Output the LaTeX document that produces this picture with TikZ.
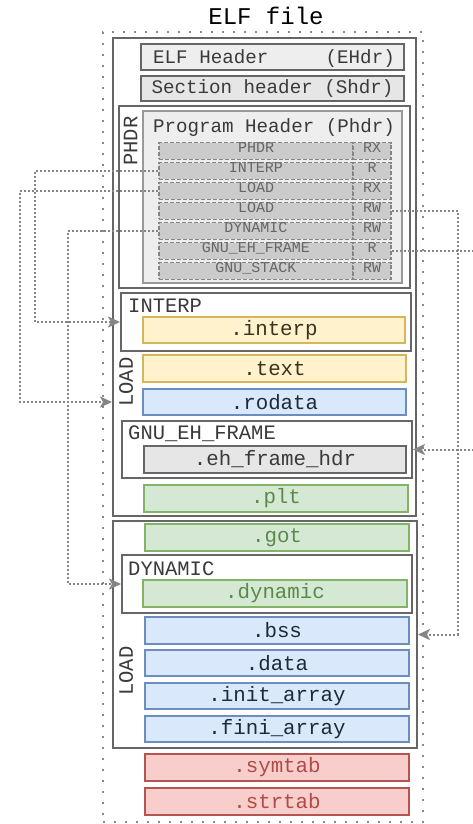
\documentclass[tikz,border=0pt]{standalone}
\usepackage{fontspec}
\setmainfont{Liberation Mono}
\usetikzlibrary{arrows.meta}

\definecolor{boxgray}{HTML}{666666}
\definecolor{dotgray}{HTML}{8A8A8A}
\definecolor{linkgray}{HTML}{858585}
\definecolor{lblgray}{HTML}{3A3A3A}
\definecolor{rowfill}{HTML}{CBCBCB}
\definecolor{rowdraw}{HTML}{858585}
\definecolor{rowtext}{HTML}{666666}
\definecolor{phfill}{HTML}{EEEEEE}
\definecolor{phdraw}{HTML}{999999}
\definecolor{yfill}{HTML}{FFF2CC}
\definecolor{ydraw}{HTML}{D6B656}
\definecolor{ytext}{HTML}{3B3320}
\definecolor{bfill}{HTML}{DAE8FC}
\definecolor{bdraw}{HTML}{6C8EBF}
\definecolor{btext}{HTML}{1C2A3A}
\definecolor{gfill}{HTML}{D5E8D4}
\definecolor{gdraw}{HTML}{82B366}
\definecolor{gtext}{HTML}{5A8A48}
\definecolor{rfill}{HTML}{F8CECC}
\definecolor{rdraw}{HTML}{B85450}
\definecolor{rtext}{HTML}{B24A45}
\definecolor{grfill}{HTML}{E6E6E6}

\newcommand{\secfont}{\fontsize{20.8}{23}\selectfont}
\newcommand{\hdrfont}{\fontsize{19.2}{21}\selectfont}
\newcommand{\lblfont}{\fontsize{20.5}{23}\selectfont}
\newcommand{\rowfont}{\fontsize{15}{17}\selectfont}

\begin{document}
\begin{tikzpicture}[x=1pt, y=-1pt, >={Stealth[length=12pt, width=11pt, inset=3pt]},
    filebox/.style={draw=dotgray, line width=2.2pt, dash pattern=on 2pt off 9pt, inner sep=0pt},
    seg/.style={draw=boxgray, line width=2pt, fill=white, inner sep=0pt},
    sect/.style={line width=2pt, minimum width=264pt, minimum height=27pt, inner sep=0pt, font=\secfont},
    yelsect/.style={sect, fill=yfill, draw=ydraw, text=ytext},
    blusect/.style={sect, fill=bfill, draw=bdraw, text=btext},
    grnsect/.style={sect, fill=gfill, draw=gdraw, text=gtext},
    redsect/.style={sect, fill=rfill, draw=rdraw, text=rtext},
    grysect/.style={sect, fill=grfill, draw=boxgray, text=lblgray},
    hdrtxt/.style={font=\hdrfont, text=lblgray, inner sep=0pt},
    lbl/.style={font=\lblfont, text=lblgray, inner sep=0pt},
    row/.style={fill=rowfill, draw=rowdraw, dash pattern=on 4pt off 2pt, line width=1.3pt, minimum height=16.5pt, inner sep=0pt,
        text height=9pt, text depth=7pt, text=rowtext, font=\rowfont},
    link/.style={draw=linkgray, line width=2pt, dash pattern=on 2pt off 2pt}]
    \useasboundingbox (0,0) rectangle (473,824);
    \clip (0,0) rectangle (473,824);

    \node[font=\fontsize{24}{26}\selectfont] (title) at (266,16) {ELF file};
    \node[filebox, minimum width=320pt, minimum height=790pt] (file) at (263,427) {};

    % segments
    \node[seg, minimum width=303pt, minimum height=478pt] (load1) at (264.5,277) {};
    \node[seg, minimum width=304pt, minimum height=227pt] (load2) at (265,634.5) {};

    % headers
    \node[draw=boxgray, fill=phfill, line width=1.6pt, minimum width=263pt, minimum height=26pt] (ehdr) at (272.5,57) {};
    \node[hdrtxt, anchor=base west] (ehdrname) at (153,64) {ELF Header};
    \node[hdrtxt, anchor=base east] (ehdrtag) at (395,64) {(EHdr)};
    \node[draw=boxgray, fill=grfill, line width=2.2pt, minimum width=263pt, minimum height=25pt,
        font=\hdrfont, text=lblgray] (shdr) at (272.5,88.5) {Section header (Shdr)};

    \node[seg, minimum width=291pt, minimum height=182pt] (phdrseg) at (264.5,197) {};
    \node[lbl, rotate=90] (phdrlbl) at (130.5,141) {PHDR};
    \node[draw=phdraw, fill=phfill, line width=1.6pt, minimum width=259pt, minimum height=172pt] (phdr) at (272.5,197) {};
    \node[hdrtxt] (phdrtitle) at (274,128) {Program Header (Phdr)};
    \foreach \nm/\fl [count=\i] in {PHDR/RX, INTERP/R, LOAD/RX, LOAD/RW, DYNAMIC/RW, GNU\_EH\_FRAME/R, GNU\_STACK/RW} {
        \node[row, minimum width=194pt] (r\i) at (256,{131+20*\i}) {\nm};
        \node[row, minimum width=38pt] (p\i) at (372,{131+20*\i}) {\fl};
    }

    % first LOAD
    \node[seg, minimum width=290pt, minimum height=58pt] (interpseg) at (266,322) {};
    \node[lbl, anchor=base west] (interplbl) at (128,312) {INTERP};
    \node[yelsect, minimum width=262pt, minimum height=26pt] (interp) at (274,330) {.interp};
    \node[yelsect, minimum width=263pt] (text) at (274.5,368.5) {.text};
    \node[blusect, minimum width=263pt, minimum height=26pt] (rodata) at (274.5,402) {.rodata};
    \node[lbl, rotate=90] (loadlbl1) at (126,382) {LOAD};
    \node[seg, minimum width=290pt, minimum height=57pt] (ehseg) at (267,449.5) {};
    \node[lbl, anchor=base west] (ehlbl) at (128,439) {GNU\_EH\_FRAME};
    \node[grysect, minimum width=262pt] (ehframe) at (275,459.5) {.eh\_frame\_hdr};
    \node[grnsect] (plt) at (276,498.5) {.plt};

    % second LOAD
    \node[grnsect] (got) at (277,537.5) {.got};
    \node[seg, minimum width=290pt, minimum height=58pt] (dynseg) at (267,584) {};
    \node[lbl, anchor=base west] (dynlbl) at (128,575) {DYNAMIC};
    \node[grnsect] (dynamic) at (275,593.5) {.dynamic};
    \node[blusect] (bss) at (277,630.5) {.bss};
    \node[blusect, minimum height=26pt] (data) at (277,663) {.data};
    \node[blusect, minimum height=26pt] (init) at (277,696) {.init\_array};
    \node[blusect, minimum height=26pt] (fini) at (277,729) {.fini\_array};
    \node[lbl, rotate=90] (loadlbl2) at (126,671) {LOAD};

    \node[redsect] (symtab) at (277,767.5) {.symtab};
    \node[redsect] (strtab) at (277,801.5) {.strtab};

    % program header entries -> segments
    \draw[link, ->] (r2.west) -- ++(-123,0) |- (interpseg.west);
    \draw[link, ->] (r3.west) -- ++(-138,0) |- (load1.west |- rodata);
    \draw[link, ->] (r5.west) -- ++(-90,0) |- (dynseg.west);
    \draw[link, ->] (p4.east) -- ++(66,0) |- (load2.east);
    \draw[link, ->] (p6.east) -- ++(100,0) |- (ehseg.east);
\end{tikzpicture}
\end{document}
